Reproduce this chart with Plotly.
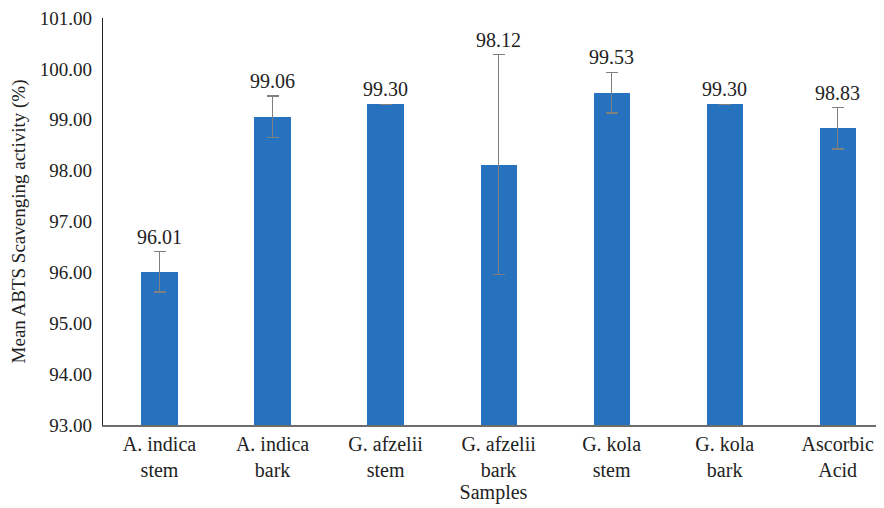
import plotly.graph_objects as go

categories = ["A. indica<br>stem", "A. indica<br>bark", "G. afzelii<br>stem", "G. afzelii<br>bark",
              "G. kola<br>stem", "G. kola<br>bark", "Ascorbic<br>Acid"]
means = [96.01, 99.06, 99.30, 98.12, 99.53, 99.30, 98.83]
errors = [0.40, 0.41, 0.0, 2.16, 0.40, 0.0, 0.41]
labels = ["96.01", "99.06", "99.30", "98.12", "99.53", "99.30", "98.83"]
y_ticks = [93, 94, 95, 96, 97, 98, 99, 100, 101]

FONT = "Liberation Serif"
x_idx = list(range(len(categories)))

fig = go.Figure()
fig.add_trace(go.Bar(
    x=x_idx, y=means, width=0.32, marker=dict(color="#2672bf", line=dict(width=0)),
    error_y=dict(type="data", array=errors, visible=True, color="#7f7f7f", thickness=1.6, width=6),
    hoverinfo="skip",
))

for i, (m, e, t) in enumerate(zip(means, errors, labels)):
    fig.add_annotation(x=i, y=m + e, text=t, showarrow=False, yanchor="bottom", yshift=2,
                       font=dict(family=FONT, size=20, color="#222"))

fig.update_layout(
    width=884, height=508, plot_bgcolor="white", paper_bgcolor="white",
    margin=dict(l=95, r=8, t=10, b=91), showlegend=False, bargap=0,
    font=dict(family=FONT, size=20, color="#222"),
)
fig.update_xaxes(
    tickmode="array", tickvals=x_idx, ticktext=categories, range=[-0.5, 6.41],
    showline=True, linecolor="#6d6d6d", linewidth=1.5, ticks="", showgrid=False,
    tickfont=dict(family=FONT, size=20, color="#222"),
    title=dict(text="Samples", font=dict(family=FONT, size=20, color="#222"), standoff=0),
)
fig.update_yaxes(
    range=[93, 101], tickvals=y_ticks, ticktext=[f"{v:.2f}" for v in y_ticks],
    showline=True, linecolor="#222", linewidth=1.2, ticks="", showgrid=False, zeroline=False,
    tickfont=dict(family=FONT, size=19, color="#222"), ticklabelstandoff=6,
    ticklabeloverflow="allow", automargin=False,
    title=dict(text="Mean ABTS Scavenging activity (%)", font=dict(family=FONT, size=19, color="#222")),
)

fig.write_html("out.html")
